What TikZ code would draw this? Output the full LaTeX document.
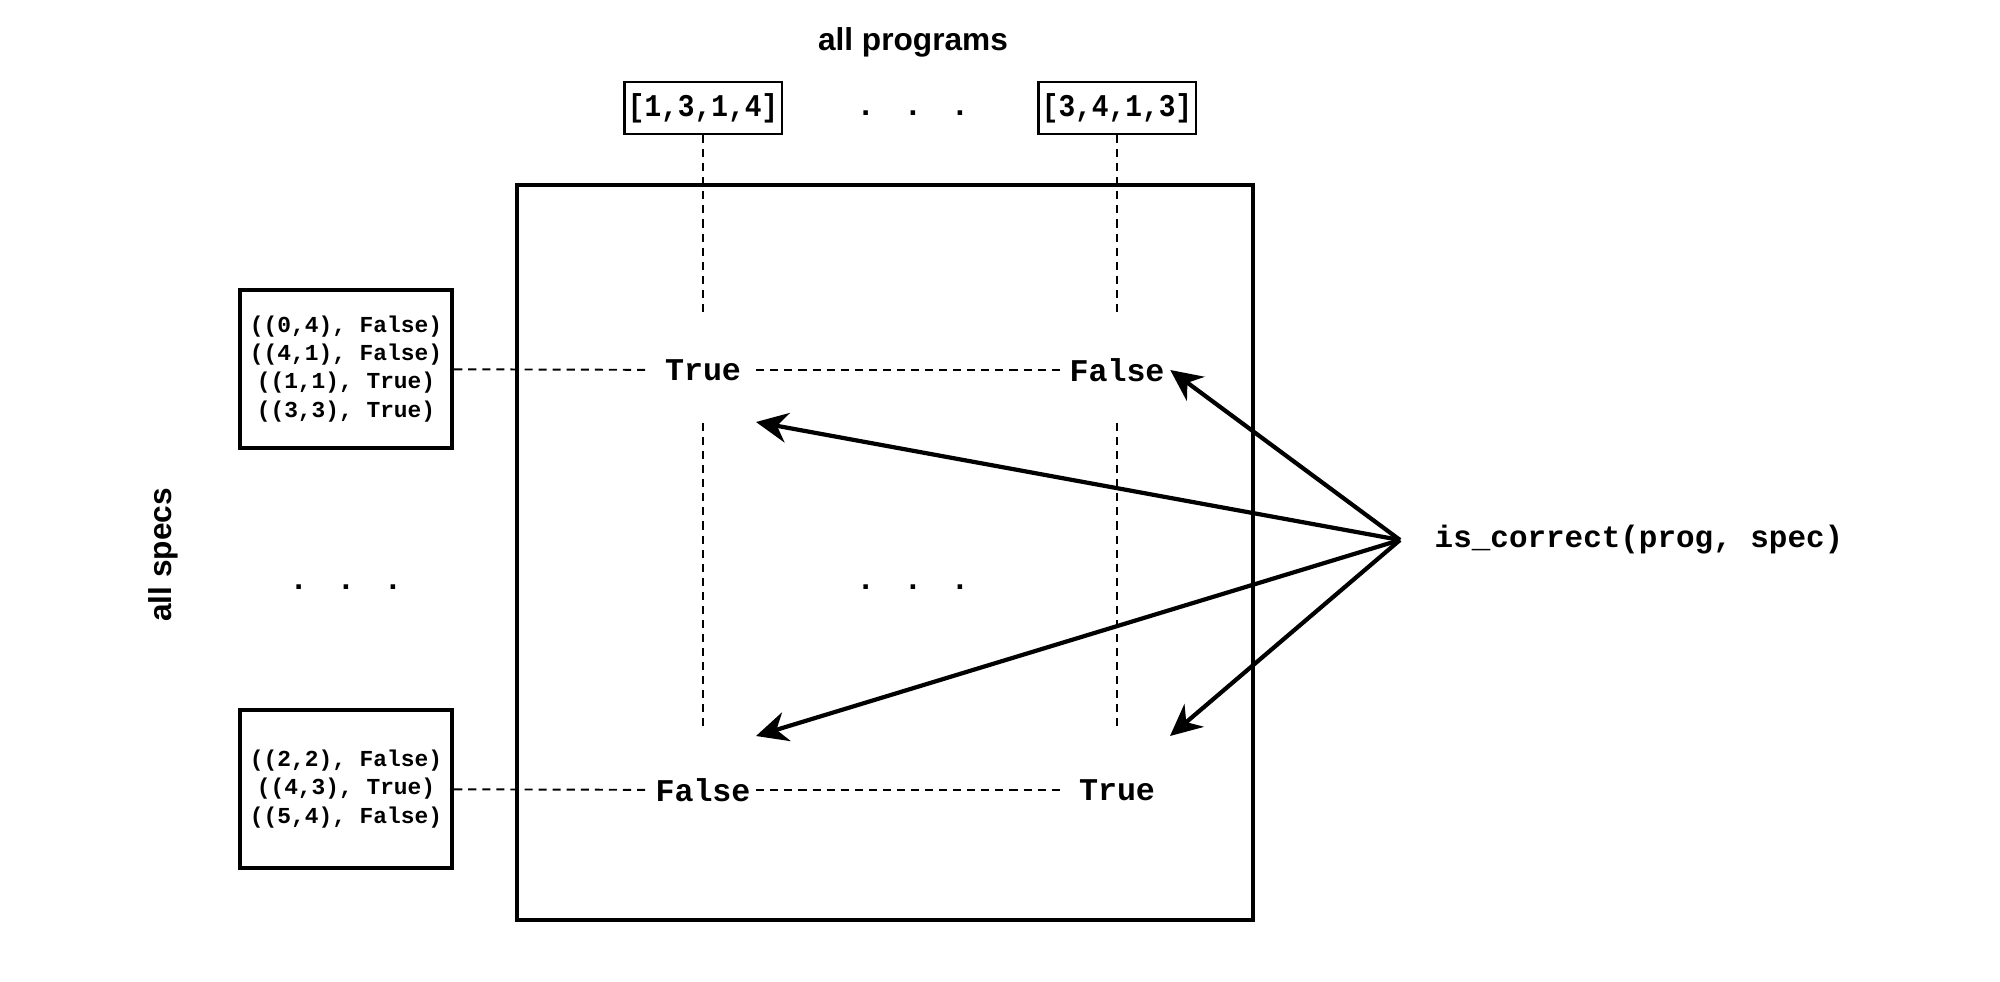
\documentclass[tikz,border=0pt]{standalone}
\usepackage{fontspec}
\setmainfont{Liberation Sans}
\setmonofont{Liberation Mono}
\newfontfamily\progfont[FakeStretch=0.88]{Liberation Mono}
\usetikzlibrary{arrows.meta}

\begin{document}
\begin{tikzpicture}[x=0.01cm, y=-0.01cm,
    prog/.style={draw, line width=0.6pt, minimum width=1.57cm, minimum height=0.52cm,
      inner sep=0pt, font=\progfont\bfseries\fontsize{9}{10}\selectfont},
    spec/.style={draw, line width=1.2pt, minimum width=2.12cm, minimum height=1.58cm,
      align=center, inner sep=0pt, font=\ttfamily\bfseries\fontsize{6.5}{8}\selectfont},
    cell/.style={minimum width=1.05cm, inner sep=0pt,
      font=\ttfamily\bfseries\fontsize{9}{10}\selectfont},
    heading/.style={font=\bfseries\fontsize{9}{10}\selectfont},
    ellip/.style={inner sep=0pt, font=\bfseries\fontsize{9}{10}\selectfont},
    link/.style={dash pattern=on 2.3pt off 1.7pt, line width=0.55pt},
    check/.style={line width=1.2pt, -{Stealth[length=9pt, width=8.5pt]}}]
  \useasboundingbox (0,0) rectangle (2000,982);

  % matrix frame
  \draw[line width=1.2pt] (517,185) rectangle (1253,920);

  \node[heading] (allprogs) at (913,42) {all programs};
  \node[heading, rotate=90] (allspecs) at (163,555) {all specs};

  \node[prog] (p1) at (703,108) {[1,3,1,4]};
  \node[prog] (p2) at (1117,108) {[3,4,1,3]};
  \node[ellip] (pdots) at (913,113) {.\hspace{10.9pt}.\hspace{10.9pt}.};

  \node[spec] (s1) at (346,369) {((0,4), False)\\((4,1), False)\\((1,1), True)\\((3,3), True)};
  \node[spec] (s2) at (346,789) {((2,2), False)\\((4,3), True)\\((5,4), False)};
  \node[ellip] (sdots) at (346,587) {.\hspace{10.9pt}.\hspace{10.9pt}.};

  \node[cell] (r1c1) at (703,370) {True};
  \node[cell] (r1c2) at (1117,370) {False};
  \node[cell] (r2c1) at (703,790) {False};
  \node[cell] (r2c2) at (1117,790) {True};
  \node[ellip] (mdots) at (913,587) {.\hspace{10.9pt}.\hspace{10.9pt}.};

  \node[font=\ttfamily\bfseries\fontsize{8.8}{10}\selectfont] (pred) at (1639,540) {is\_correct(prog, spec)};

  \coordinate (c1top) at (703,313);
  \coordinate (c1mid) at (703,423);
  \coordinate (c1bot) at (703,730);
  \coordinate (c2top) at (1117,313);
  \coordinate (c2mid) at (1117,423);
  \coordinate (c2bot) at (1117,730);
  \coordinate (src) at (1400,540);
  \coordinate (hitA) at (756,422);
  \coordinate (hitB) at (756,736);
  \coordinate (hitC) at (1170,736);

  \begin{scope}[link]
    \draw (p1) to (c1top);
    \draw (c1mid) to (c1bot);
    \draw (p2) to (c2top);
    \draw (c2mid) to (c2bot);
    \draw (s1) to (r1c1);
    \draw (r1c1) to (r1c2);
    \draw (s2) to (r2c1);
    \draw (r2c1) to (r2c2);
  \end{scope}

  \begin{scope}[check]
    \draw (src) to (r1c2.east);
    \draw (src) to (hitA);
    \draw (src) to (hitB);
    \draw (src) to (hitC);
  \end{scope}
\end{tikzpicture}
\end{document}
